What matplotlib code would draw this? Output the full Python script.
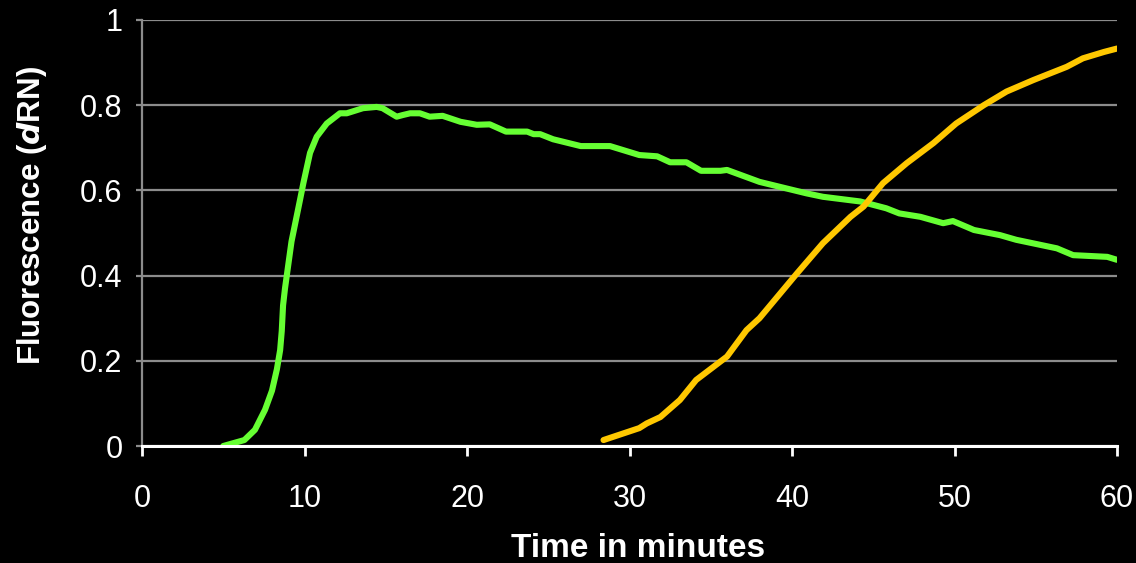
import matplotlib
matplotlib.use("Agg")
import matplotlib.pyplot as plt

plt.rcParams['font.family'] = ['Liberation Sans', 'DejaVu Sans']

green_x = [5.0, 6.3, 6.95, 7.57, 8.0, 8.3, 8.5, 8.6, 8.68, 8.8, 9.2, 9.72, 9.93, 10.34,
           10.75, 11.37, 12.18, 12.6, 13.6, 14.44, 14.8, 15.67, 16.06, 16.5, 17.1, 17.7,
           18.5, 19.6, 20.6, 21.4, 22.4, 23.7, 24.1, 24.5, 25.3, 27.0, 28.8, 29.4, 30.6,
           31.7, 32.5, 33.5, 34.4, 35.6, 36.0, 38.0, 40.9, 41.9, 44.2, 45.8, 46.6, 47.9,
           49.3, 49.9, 51.2, 52.8, 53.8, 56.3, 57.3, 59.4, 60.0]
green_y = [0.0, 0.014, 0.038, 0.085, 0.13, 0.18, 0.225, 0.27, 0.33, 0.37, 0.48, 0.577, 0.617, 0.688,
           0.726, 0.757, 0.781, 0.781, 0.793, 0.796, 0.793, 0.773, 0.777, 0.781, 0.781, 0.773,
           0.775, 0.761, 0.754, 0.755, 0.738, 0.738, 0.732, 0.732, 0.72, 0.704, 0.704, 0.697, 0.683,
           0.68, 0.666, 0.666, 0.646, 0.646, 0.648, 0.62, 0.593, 0.585, 0.574, 0.558, 0.546, 0.538,
           0.523, 0.528, 0.507, 0.495, 0.484, 0.464, 0.448, 0.444, 0.437]

orange_x = [28.4, 30.6, 31.06, 31.9, 33.1, 34.1, 36.0, 37.2, 38.0, 40.3, 41.9, 43.6, 44.4, 45.6,
            47.06, 48.7, 50.1, 51.8, 53.2, 54.85, 56.9, 57.9, 59.2, 60.0]
orange_y = [0.014, 0.042, 0.053, 0.068, 0.108, 0.155, 0.21, 0.272, 0.3, 0.405, 0.476, 0.538, 0.562, 0.617,
            0.664, 0.711, 0.757, 0.80, 0.832, 0.859, 0.89, 0.91, 0.925, 0.933]

x_ticks = [0, 10, 20, 30, 40, 50, 60]
y_ticks = [0, 0.2, 0.4, 0.6, 0.8, 1]
y_tick_labels = ['0', '0.2', '0.4', '0.6', '0.8', '1']

fig = plt.figure(figsize=(11.36, 5.63), dpi=100, facecolor='black')
ax = fig.add_axes([0.125, 0.2078, 0.8583, 0.7567], facecolor='black')

ax.plot(green_x, green_y, color='#66FF33', lw=4.4, solid_capstyle='round', zorder=3)
ax.plot(orange_x, orange_y, color='#FFC800', lw=4.4, solid_capstyle='round', zorder=3)

ax.set_xlim(0, 60)
ax.set_ylim(0, 1)
ax.set_xticks(x_ticks)
ax.set_yticks(y_ticks)
ax.set_yticklabels(y_tick_labels)
ax.grid(axis='y', color='#8c8c8c', lw=1.6)
ax.set_axisbelow(True)

for s in ['top', 'right']:
    ax.spines[s].set_visible(False)
ax.spines['left'].set_color('#8c8c8c')
ax.spines['left'].set_linewidth(1.6)
ax.spines['bottom'].set_color('white')
ax.spines['bottom'].set_linewidth(2.2)
ax.spines['bottom'].set_zorder(4)

ax.tick_params(axis='x', colors='white', labelsize=22, length=7, width=2, pad=20)
ax.tick_params(axis='y', colors='white', labelsize=22, length=4, width=1.6, pad=10)
ax.tick_params(axis='y', color='#8c8c8c')

ax.set_xlabel('Time in minutes', color='white', fontsize=24, fontweight='bold')
ax.set_ylabel('Fluorescence ($\\boldsymbol{d}$RN)', color='white', fontsize=22.5, fontweight='bold')
ax.xaxis.set_label_coords(0.509, -0.205)
ax.yaxis.set_label_coords(-0.095, 0.542)

fig.savefig('out.png', dpi=100, facecolor='black')
